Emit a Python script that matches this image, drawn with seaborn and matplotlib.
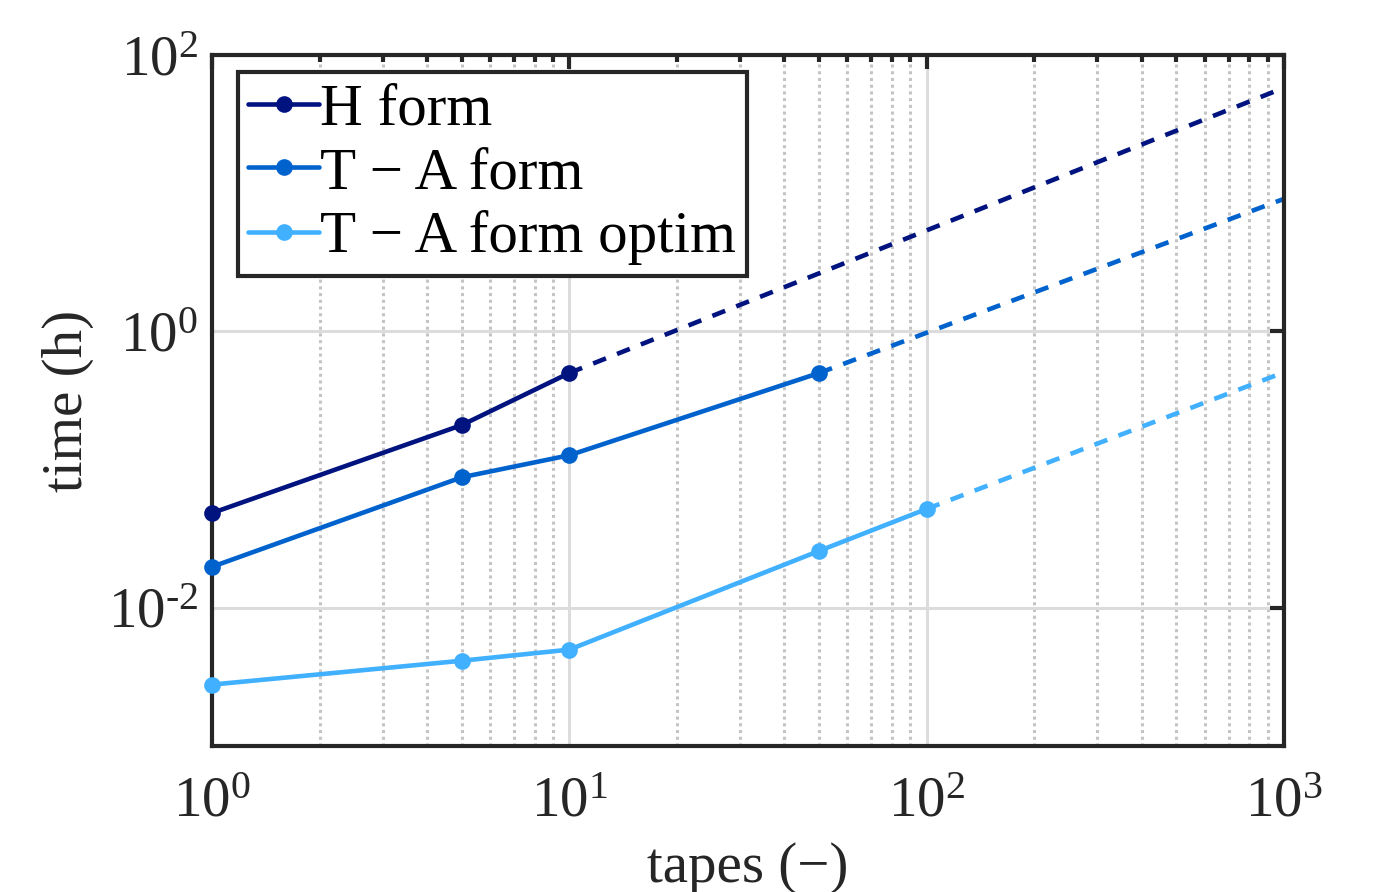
import matplotlib
matplotlib.use("Agg")
import matplotlib.pyplot as plt
import seaborn as sns
import pandas as pd
from matplotlib.ticker import LogLocator, FuncFormatter, NullFormatter
import numpy as np

# measured points (tapes vs hours)
tapes_h = [1, 5, 10]
time_h = [0.0485, 0.21, 0.5]
tapes_ta = [1, 5, 10, 50]
time_ta = [0.0198, 0.088, 0.127, 0.5]
tapes_opt = [1, 5, 10, 50, 100]
time_opt = [0.00278, 0.00414, 0.00498, 0.0258, 0.0519]

# extrapolated end values at 1000 tapes
extrap_x = 1000
extrap_h = 58.0
extrap_ta = 9.1
extrap_opt = 0.506

labels = ['H form', 'T − A form', 'T − A form optim']
colors = ['#00137f', '#0062cc', '#40b0ff']

sns.set_style("white")
plt.rcParams['font.family'] = ['Liberation Serif', 'DejaVu Serif']
plt.rcParams['mathtext.fontset'] = 'custom'
plt.rcParams['mathtext.rm'] = 'Liberation Serif'
plt.rcParams['mathtext.it'] = 'Liberation Serif:italic'

FS = 41
LW = 3.3
MS = 12

fig = plt.figure(figsize=(13.75, 8.92), dpi=100)
ax = fig.add_axes([0.1542, 0.1637, 0.9338 - 0.1542, 0.9383 - 0.1637])

series = [(tapes_h, time_h, extrap_h), (tapes_ta, time_ta, extrap_ta), (tapes_opt, time_opt, extrap_opt)]
for (xs, ys, ye), lab, col in zip(series, labels, colors):
    df = pd.DataFrame({'tapes': xs, 'time': ys})
    sns.lineplot(data=df, x='tapes', y='time', ax=ax, color=col, marker='o',
                 linewidth=LW, markersize=MS, markeredgewidth=0,
                 label=lab, zorder=3, clip_on=False)
    ext = pd.DataFrame({'tapes': [xs[-1], extrap_x], 'time': [ys[-1], ye]})
    sns.lineplot(data=ext, x='tapes', y='time', ax=ax, color=col, zorder=2, legend=False,
                 linewidth=LW, dashes=False)
    ax.lines[-1].set_linestyle((0, (3.0, 2.6)))

ax.set_xscale('log')
ax.set_yscale('log')
ax.set_xlim(1, 1000)
ax.set_ylim(1e-3, 1e2)


def pow10(v, pos):
    e = int(round(np.log10(v)))
    s = str(e).replace('-', '\u2010')
    return r'$10^{%s}$' % s


ax.xaxis.set_major_locator(LogLocator(base=10, numticks=10))
ax.xaxis.set_minor_locator(LogLocator(base=10, subs=range(2, 10), numticks=20))
ax.xaxis.set_major_formatter(FuncFormatter(pow10))
ax.xaxis.set_minor_formatter(NullFormatter())
ax.yaxis.set_major_locator(plt.FixedLocator([1e-2, 1e0, 1e2]))
ax.yaxis.set_minor_locator(plt.NullLocator())
ax.yaxis.set_major_formatter(FuncFormatter(pow10))

ax.grid(True, which='major', color='#dcdcdc', linewidth=2.2, linestyle='-', zorder=0)
ax.grid(True, which='minor', axis='x', color='#c4c4c4', linewidth=2.2, linestyle=(0, (1, 1.2)), zorder=0)
ax.set_axisbelow(True)

for s in ax.spines.values():
    s.set_color('#262626')
    s.set_linewidth(3)
    s.set_visible(True)

ax.tick_params(which='major', direction='in', length=10, width=3, color='#262626',
               top=True, right=True, labelsize=FS, labelcolor='#262626')
ax.tick_params(axis='x', which='major', pad=22)
ax.tick_params(axis='y', which='major', pad=10)
ax.tick_params(which='minor', direction='in', length=5, width=3, color='#262626',
               top=True, right=True)

ax.set_xlabel('tapes (−)', fontsize=FS, color='#262626', labelpad=10)
ax.set_ylabel('time (h)', fontsize=FS, color='#262626', labelpad=10)

leg = ax.legend(loc='upper left', bbox_to_anchor=(0.024, 0.975), fontsize=42.5, frameon=True,
                fancybox=False, framealpha=1, edgecolor='#262626', handlelength=1.2,
                handletextpad=0.02, borderpad=0.18, labelspacing=0.16, borderaxespad=0)
leg.get_frame().set_linewidth(3)
for t in leg.get_texts():
    t.set_color('black')
for h in leg.legend_handles:
    h.set_linewidth(LW)
    h.set_markersize(MS)
    h.set_markeredgewidth(0)

fig.savefig('out.png', dpi=100)
